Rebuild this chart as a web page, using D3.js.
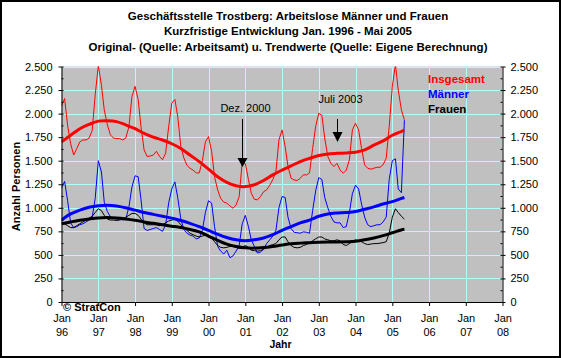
<!DOCTYPE html>
<html><head><meta charset="utf-8">
<script src="https://cdn.jsdelivr.net/npm/d3@7"></script>
<style>
html,body{margin:0;padding:0;background:#fff;}
svg{display:block;font-family:Arial,"Liberation Sans",sans-serif;}
</style></head>
<body><svg id="c" width="561" height="358"></svg>
<script>
// ---- data (monthly, Jan 1996 .. Mai 2005) ----
const startMonth = "1996-01";
const insgesamt = [
 2080,2160,1880,1680,1560,1630,1700,1720,1720,1740,1820,2200,
 2510,2300,2040,1880,1775,1740,1735,1735,1720,1740,1860,2180,
 2290,2150,1860,1615,1545,1550,1560,1600,1545,1510,1580,1860,
 2110,2150,1970,1650,1530,1450,1420,1400,1370,1370,1500,1700,
 1756,1600,1330,1190,1100,1060,1050,1020,995,1030,1120,1490,
 1470,1300,1155,1090,1084,1120,1170,1190,1240,1300,1384,1720,
 1827,1650,1438,1314,1296,1290,1314,1350,1349,1370,1630,1863,
 2005,1980,1739,1544,1473,1438,1473,1400,1367,1400,1509,1827,
 1898,1827,1630,1456,1420,1410,1420,1430,1430,1456,1525,1863,
 2288,2520,2250,2040,1934];
const maenner = [
 1210,1280,1080,840,790,800,820,830,850,870,900,1100,
 1500,1380,1060,960,905,890,880,880,870,880,1010,1220,
 1340,1330,1090,780,760,770,780,790,770,750,820,1050,
 1200,1275,1110,880,770,730,710,700,670,680,760,950,
 1075,1050,800,590,540,510,550,470,490,540,600,830,
 920,800,660,590,520,530,560,620,660,700,760,1000,
 1120,1110,900,780,740,735,730,745,740,730,970,1180,
 1320,1300,1110,1000,910,850,840,840,790,800,950,1150,
 1240,1200,1040,900,820,800,810,820,820,850,900,1300,
 1500,1520,1200,1160,1930];
const frauen = [
 840,830,810,790,790,810,830,850,870,890,910,950,
 990,970,920,880,870,870,865,870,880,900,920,940,
 940,920,880,840,820,820,820,820,810,820,840,860,
 870,875,860,820,790,760,730,715,700,690,700,710,
 690,680,640,600,580,575,580,590,590,580,570,580,
 600,580,550,545,540,545,560,580,600,610,620,660,
 690,690,640,600,580,575,580,600,610,630,650,670,
 690,690,670,660,650,650,660,650,610,600,620,640,
 660,650,640,620,610,615,620,620,625,630,640,730,
 900,990,950,910,880];
// trend values, read every 3 months (+ last month Mai 2005)
const trendInsgesamt = [1700,1770,1840,1885,1920,1925,1915,1880,1840,1790,1750,1720,1680,1630,1560,1490,1410,1330,1270,1235,1225,1245,1290,1350,1400,1445,1490,1525,1555,1572,1578,1582,1590,1615,1665,1710,1770,1810,1825];
const trendMaenner   = [870,935,975,1005,1022,1028,1020,1000,975,950,930,910,890,865,835,800,760,720,685,660,650,660,680,715,760,800,840,870,910,935,945,950,960,985,1010,1040,1065,1100,1110];
const trendFrauen    = [830,850,868,882,893,896,892,882,868,850,835,820,805,790,770,745,700,655,615,590,575,572,578,590,605,618,625,630,635,638,638,640,645,660,680,705,735,765,772];
const yTicks = [0,250,500,750,1000,1250,1500,1750,2000,2250,2500];
const xTickYears = [1996,1997,1998,1999,2000,2001,2002,2003,2004,2005,2006,2007,2008];
const titles = ["Geschäftsstelle Trostberg: Arbeitslose Männer und Frauen",
  "Kurzfristige Entwicklung Jan. 1996 - Mai 2005",
  "Original- (Quelle: Arbeitsamt) u. Trendwerte (Quelle: Eigene Berechnung)"];
const legendLabels = ["Insgesamt","Männer","Frauen"];
const annotations = [{date:"2000-12", text:"Dez. 2000"},{date:"2003-07", text:"Juli 2003"}];

// ---- drawing ----
const svg = d3.select("#c");
const W = 561, H = 358;
const L = 61.5, R = 502.5, T = 66.5, B = 302;
const parseM = d3.utcParse("%Y-%m");
const t0 = parseM(startMonth);
const x = d3.scaleUtc().domain([Date.UTC(1996,0,1), Date.UTC(2008,0,1)]).range([L, R]);
const y = d3.scaleLinear().domain([0,2500]).range([B, T]);
const de = d3.formatLocale({decimal:",", thousands:".", grouping:[3], currency:["","€"]});
const fmt = de.format(",d");
const colors = ["#ff0000","#0000ff","#000000"];

svg.append("rect").attr("x",0).attr("y",0).attr("width",W).attr("height",H).attr("fill","#fff");
svg.append("rect").attr("x",1).attr("y",1).attr("width",W-2).attr("height",H-2)
  .attr("fill","none").attr("stroke","#000").attr("stroke-width",2);

// titles
svg.append("g").selectAll("text").data(titles).join("text")
  .attr("x",288).attr("y",(d,i)=>19.5+i*15.5).attr("text-anchor","middle")
  .attr("font-size",11.5).attr("font-weight","bold").text(d=>d);

// plot background
svg.append("rect").attr("x",L).attr("y",T).attr("width",R-L).attr("height",B-T).attr("fill","#c0c0c0");

// grid
const grid = svg.append("g").attr("stroke","#b0ffff").attr("stroke-width",1);
grid.selectAll("line.h").data(yTicks.slice(1)).join("line")
  .attr("x1",L).attr("x2",R).attr("y1",d=>Math.round(y(d))+0.5).attr("y2",d=>Math.round(y(d))+0.5);
grid.selectAll("line.v").data(xTickYears.slice(1,-1)).join("line")
  .attr("y1",T).attr("y2",B).attr("x1",d=>Math.round(x(Date.UTC(d,0,1)))+0.5).attr("x2",d=>Math.round(x(Date.UTC(d,0,1)))+0.5);

// clip
svg.append("clipPath").attr("id","clip").append("rect").attr("x",L).attr("y",T).attr("width",R-L).attr("height",B-T);
const plot = svg.append("g").attr("clip-path","url(#clip)");

const monthDate = i => d3.utcMonth.offset(t0, i);
const trendIdx = d3.range(0, insgesamt.length-1, 3).concat([insgesamt.length-1]);
const rawLine = d3.line().x((d,i)=>x(monthDate(i))).y(d=>y(d));
const trendLine = d3.line().x((d,i)=>x(monthDate(trendIdx[i]))).y(d=>y(d)).curve(d3.curveCatmullRom);

[insgesamt, maenner, frauen].forEach((s,k)=>{
  plot.append("path").attr("d",rawLine(s)).attr("fill","none").attr("stroke",colors[k]).attr("stroke-width",1);
});
[trendFrauen, trendMaenner, trendInsgesamt].forEach((s,k)=>{
  plot.append("path").attr("d",trendLine(s)).attr("fill","none").attr("stroke",colors[2-k]).attr("stroke-width",3);
});

// axes
const axFont = g => g.attr("font-family",null).attr("font-size",11);
svg.append("g").attr("transform",`translate(${L},0)`)
  .call(d3.axisLeft(y).tickValues(yTicks).tickFormat(fmt).tickSizeInner(3).tickSizeOuter(0).tickPadding(6))
  .call(axFont);
svg.append("g").attr("transform",`translate(${L},0)`)
  .call(d3.axisRight(y).tickValues(d3.range(0,2501,125)).tickFormat("").tickSize(2).tickSizeOuter(0))
  .call(g=>g.select(".domain").remove());
svg.append("g").attr("transform",`translate(${R},0)`)
  .call(d3.axisRight(y).tickValues(yTicks).tickFormat(fmt).tickSizeInner(3).tickSizeOuter(0).tickPadding(5))
  .call(axFont);
svg.append("g").attr("transform",`translate(${R},0)`)
  .call(d3.axisLeft(y).tickValues(d3.range(0,2501,125)).tickFormat("").tickSize(2).tickSizeOuter(0))
  .call(g=>g.select(".domain").remove());
svg.selectAll(".tick text").attr("fill","#000");
const xa = svg.append("g").attr("transform",`translate(0,${B})`)
  .call(d3.axisBottom(x).tickValues(xTickYears.map(yy=>new Date(Date.UTC(yy,0,1)))).tickFormat("").tickSizeInner(4).tickSizeOuter(0));
xa.selectAll(".tick").append("text").attr("fill","#000").attr("font-size",11).attr("text-anchor","middle")
  .attr("y",20).text("Jan");
xa.selectAll(".tick").append("text").attr("fill","#000").attr("font-size",11).attr("text-anchor","middle")
  .attr("y",33.5).text(d=>d3.utcFormat("%y")(d));

// axis titles
svg.append("text").attr("x",280.5).attr("y",348).attr("text-anchor","middle")
  .attr("font-size",10.5).attr("font-weight","bold").text("Jahr");
svg.append("text").attr("transform","translate(20,186.5) rotate(-90)").attr("text-anchor","middle")
  .attr("font-size",11).attr("font-weight","bold").text("Anzahl Personen");
svg.append("text").attr("x",63).attr("y",311).attr("font-size",11).attr("font-weight","bold").text("© StratCon");

// legend
svg.append("g").selectAll("text").data(legendLabels).join("text")
  .attr("x",428).attr("y",(d,i)=>83+i*15).attr("font-size",11.5).attr("font-weight","bold")
  .attr("fill",(d,i)=>colors[i]).text(d=>d);

// annotations
const ann = [{yText:112, y1:119, headTop:158, tip:167},{yText:103, y1:119, headTop:132, tip:142}];
annotations.forEach((a,i)=>{
  const ax = Math.round(x(parseM(a.date)))+0.5;
  const p = ann[i];
  svg.append("text").attr("x",ax+3).attr("y",p.yText).attr("text-anchor","middle").attr("font-size",11).text(a.text);
  svg.append("line").attr("x1",ax).attr("x2",ax).attr("y1",p.y1).attr("y2",p.headTop+2).attr("stroke","#000");
  svg.append("path").attr("d",`M${ax-5},${p.headTop}L${ax+5},${p.headTop}L${ax},${p.tip}Z`).attr("fill","#000");
});
</script></body></html>
